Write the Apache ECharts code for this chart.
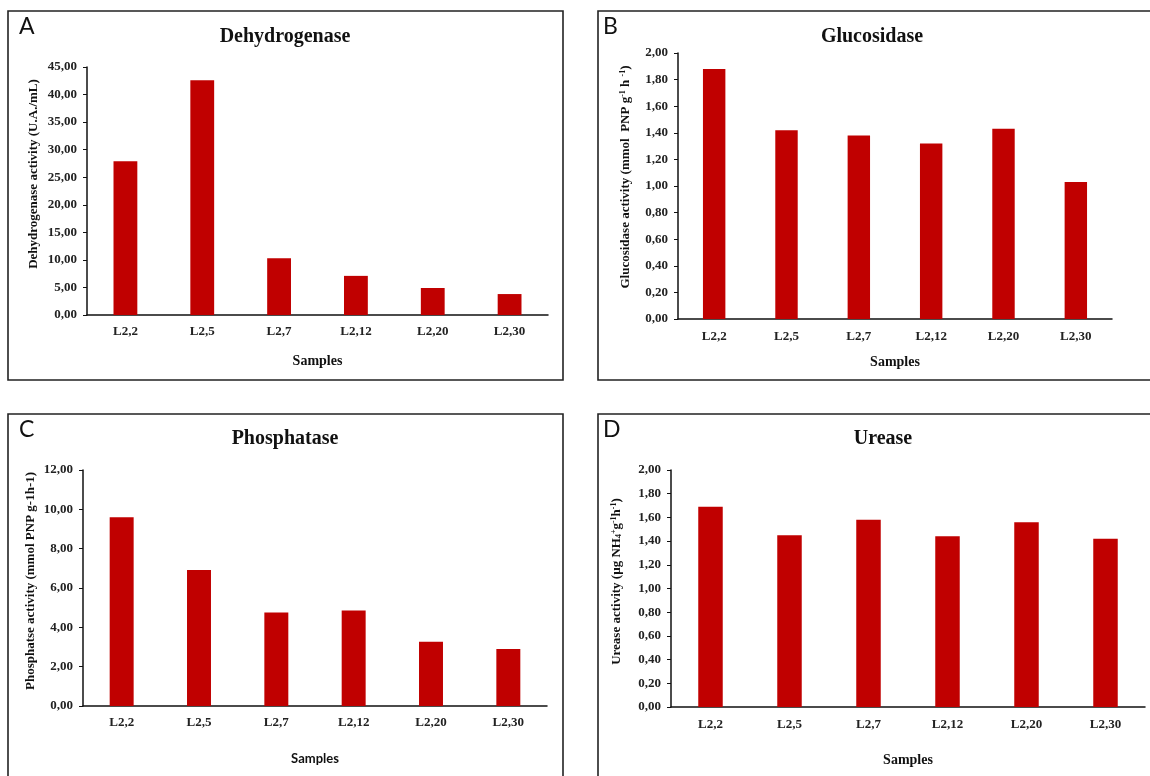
<!DOCTYPE html>
<html>
<head>
<meta charset="utf-8">
<script src="https://cdn.jsdelivr.net/npm/echarts@6/dist/echarts.min.js"></script>
<style>
  html, body { margin: 0; padding: 0; background: #fff; }
  #main { width: 1150px; height: 776px; }
</style>
</head>
<body>
<div id="main"></div>
<script>
var samples = ['L2,2', 'L2,5', 'L2,7', 'L2,12', 'L2,20', 'L2,30']

var dehydrogenase = [27.9, 42.6, 10.3, 7.1, 4.9, 3.8]
var glucosidase = [1.88, 1.42, 1.38, 1.32, 1.43, 1.03]
var phosphatase = [9.6, 6.92, 4.76, 4.85, 3.27, 2.9]
var urease = [1.69, 1.45, 1.58, 1.44, 1.56, 1.42]

var panelTitles = ['Dehydrogenase', 'Glucosidase', 'Phosphatase', 'Urease']
var panelLetters = ['A', 'B', 'C', 'D']
var yMax = [45, 2, 12, 2]
var yStep = [5, 0.2, 2, 0.2]

var serif = '"Liberation Serif", "Times New Roman", serif'
var sans = 'Lato, "Open Sans", sans-serif'
var red = '#c00000'

// panel frames and plot areas (pixels)
var frames = [
  { x: 8, y: 11, w: 555, h: 369 },
  { x: 598, y: 11, w: 600, h: 369 },
  { x: 8, y: 414, w: 555, h: 400 },
  { x: 598, y: 414, w: 600, h: 400 }
]
var grids = [
  { left: 87, top: 67, width: 461, height: 248 },
  { left: 678, top: 53, width: 434, height: 266 },
  { left: 83, top: 470, width: 464, height: 236 },
  { left: 671, top: 470, width: 474, height: 237 }
]
var titlePos = [[285, 27], [872, 27], [285, 429], [883, 429]]
var letterPos = [[19, 15], [603, 15], [19, 418], [603, 418]]

var yNames = [
  'Dehydrogenase activity (U.A./mL)',
  'Glucosidase activity (mmol  PNP g{sup|-1} h {sup|-1})',
  'Phosphatse activity (mmol PNP g-1h-1)',
  'Urease activity (µg NH{sub|4}{sup|+}g{sup|-1}h{sup|-1})'
]
var yNameShift = [34, 18, 14, 14]
var yNameGap = [47, 46, 46, 48]
var xNameGap = [39, 36, 46, 46]
var xLabelMargin = [10, 11, 10, 11]

function fmt(v) {
  return v.toFixed(2).replace('.', ',')
}

var chart = echarts.init(document.getElementById('main'), null, { renderer: 'canvas' })

var option = {
  backgroundColor: '#fff',
  animation: false,
  title: [],
  grid: [],
  xAxis: [],
  yAxis: [],
  series: [],
  graphic: []
}

var allData = [dehydrogenase, glucosidase, phosphatase, urease]

for (var i = 0; i < 4; i++) {
  option.graphic.push({
    type: 'rect',
    shape: { x: frames[i].x, y: frames[i].y, width: frames[i].w, height: frames[i].h },
    style: { fill: 'none', stroke: '#222', lineWidth: 1.6 },
    silent: true
  })
  option.title.push({
    text: panelTitles[i],
    left: titlePos[i][0],
    top: titlePos[i][1],
    textAlign: 'center',
    padding: 0,
    textStyle: { fontFamily: serif, fontWeight: 'bold', fontSize: 20, color: '#111' }
  })
  option.title.push({
    text: panelLetters[i],
    left: letterPos[i][0],
    top: letterPos[i][1],
    padding: 0,
    textStyle: { fontFamily: sans, fontWeight: 'normal', fontSize: 23, color: '#111' }
  })
  option.grid.push({
    left: grids[i].left,
    top: grids[i].top,
    width: grids[i].width,
    height: grids[i].height,
    containLabel: false
  })
  option.xAxis.push({
    type: 'category',
    gridIndex: i,
    data: samples,
    name: 'Samples',
    nameLocation: 'middle',
    nameGap: xNameGap[i],
    nameTextStyle: {
      fontFamily: i === 2 ? sans : serif,
      fontWeight: 'bold',
      fontSize: i === 2 ? 13 : 14,
      color: '#111'
    },
    axisLine: { lineStyle: { color: '#111', width: 1.5 } },
    axisTick: { show: false },
    axisLabel: {
      margin: xLabelMargin[i],
      fontFamily: serif,
      fontWeight: 'bold',
      fontSize: 13,
      color: '#222'
    }
  })
  option.yAxis.push({
    type: 'value',
    gridIndex: i,
    min: 0,
    max: yMax[i],
    interval: yStep[i],
    name: yNames[i],
    nameLocation: 'middle',
    nameRotate: 90,
    nameGap: yNameGap[i],
    nameTextStyle: {
      fontFamily: serif,
      fontWeight: 'bold',
      fontSize: 13,
      color: '#111',
      padding: [0, 0, 0, yNameShift[i]],
      rich: {
        sup: { fontFamily: serif, fontWeight: 'bold', fontSize: 8, verticalAlign: 'top', color: '#111' },
        sub: { fontFamily: serif, fontWeight: 'bold', fontSize: 8, verticalAlign: 'bottom', color: '#111' }
      }
    },
    splitLine: { show: false },
    axisLine: { show: true, lineStyle: { color: '#111', width: 1.5 } },
    axisTick: { show: true, inside: false, length: 4, lineStyle: { color: '#111' } },
    axisLabel: {
      margin: 10,
      fontFamily: serif,
      fontWeight: 'bold',
      fontSize: 13,
      color: '#222',
      formatter: fmt
    }
  })
  option.series.push({
    type: 'bar',
    xAxisIndex: i,
    yAxisIndex: i,
    data: allData[i],
    barWidth: '31%',
    itemStyle: { color: red }
  })
}

chart.setOption(option)
</script>
</body>
</html>
